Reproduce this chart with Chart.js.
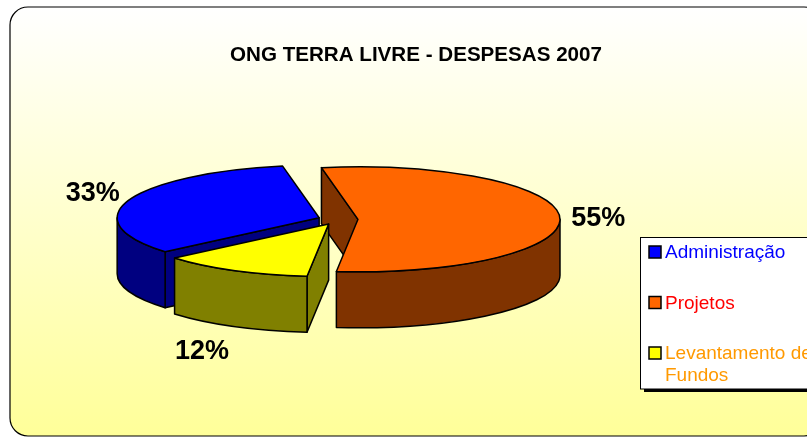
<!DOCTYPE html>
<html>
<head>
<meta charset="utf-8">
<title>ONG Terra Livre</title>
<style>
  html, body { margin: 0; padding: 0; background: #fff; overflow: hidden; width: 807px; height: 437px; }
  canvas { display: block; }
</style>
</head>
<body>
<canvas id="despesasChart" width="832" height="437"></canvas>
<script src="https://cdn.jsdelivr.net/npm/chart.js@4/dist/chart.umd.min.js"></script>
<script>
const titleText = 'ONG TERRA LIVRE - DESPESAS 2007';
const categories = ['Administração', 'Projetos', 'Levantamento de Fundos'];
const legendLines = [['Administração'], ['Projetos'], ['Levantamento de', 'Fundos']];
const values = [33.3, 54.6, 12.1];
const topColors = ['#0000FF', '#FF6600', '#FFFF00'];
const wallColors = ['#000080', '#803300', '#808000'];
const legendTextColors = ['#0000FF', '#FF0000', '#FF9900'];

const SQUASH = 0.26;   // tilt of the pie
const DEPTH = 56;
const EXPLODE = 20;
const LABEL_DIST = 1.19;
const labelNudge = [[0, -3], [0, 2], [-14, 16]];

const ctx = document.getElementById('despesasChart');

function slicePieces(chart) {
  return chart.getDatasetMeta(0).data.map((arc, i) => {
    const mid = (arc.startAngle + arc.endAngle) / 2;
    return {
      arc, i, mid,
      ax: arc.x + Math.cos(mid) * EXPLODE,
      ay: arc.y + Math.sin(mid) * EXPLODE * SQUASH
    };
  });
}

function paintFace(c, color) {
  c.fillStyle = color;
  c.fill();
  c.stroke();
}

const pie3d = {
  id: 'pie3d',
  afterLayout(chart) {
    // title is centred on the whole frame, not on the pie
    chart.titleBlock.left = 0;
    chart.titleBlock.right = chart.width;
  },
  beforeDraw(chart) {
    const c = chart.ctx;
    const grad = c.createLinearGradient(0, 7, 0, 436);
    grad.addColorStop(0, '#FFFFFF');
    grad.addColorStop(1, '#FFFF99');
    c.save();
    c.beginPath();
    c.roundRect(10, 7, 812, 429, 18);
    c.fillStyle = grad;
    c.fill();
    c.strokeStyle = '#000';
    c.lineWidth = 1.2;
    c.stroke();
    c.restore();
  },
  beforeDatasetDraw(chart) {
    const c = chart.ctx;
    const pieces = slicePieces(chart).sort((a, b) => a.ay - b.ay);
    c.save();
    c.strokeStyle = '#000';
    c.lineWidth = 1.5;
    c.lineJoin = 'round';
    pieces.forEach(p => {
      const { arc, i, ax, ay } = p;
      const R = arc.outerRadius;
      const ry = R * SQUASH;
      const s = arc.startAngle;
      const e = arc.endAngle;

      // radial walls, skip the ones facing away
      [s, e].forEach((t, k) => {
        const facing = k === 0 ? Math.cos(t) < 0 : Math.cos(t) > 0;
        if (!facing) return;
        const rimX = ax + Math.cos(t) * R;
        const rimY = ay + Math.sin(t) * ry;
        c.beginPath();
        c.moveTo(ax, ay);
        c.lineTo(rimX, rimY);
        c.lineTo(rimX, rimY + DEPTH);
        c.lineTo(ax, ay + DEPTH);
        c.closePath();
        paintFace(c, wallColors[i]);
      });

      // outer wall, only the part that faces the viewer
      for (let n = -1; n <= 2; n++) {
        const lo = Math.max(s, n * 2 * Math.PI);
        const hi = Math.min(e, Math.PI + n * 2 * Math.PI);
        if (hi > lo) {
          c.beginPath();
          c.ellipse(ax, ay, R, ry, 0, lo, hi);
          c.ellipse(ax, ay + DEPTH, R, ry, 0, hi, lo, true);
          c.closePath();
          paintFace(c, wallColors[i]);
        }
      }

      // top face comes from the library's own arc
      c.save();
      c.translate(ax, ay);
      c.scale(1, SQUASH);
      c.translate(-arc.x, -arc.y);
      arc.draw(c);
      c.restore();

      c.beginPath();
      c.moveTo(ax, ay);
      c.ellipse(ax, ay, R, ry, 0, s, e);
      c.closePath();
      c.stroke();
    });
    c.restore();
    return false;
  },
  afterDraw(chart) {
    const c = chart.ctx;
    const total = values.reduce((a, b) => a + b, 0);

    // percent labels
    c.save();
    c.fillStyle = '#000';
    c.font = 'bold 27px "Liberation Sans", Arial, sans-serif';
    c.textAlign = 'center';
    c.textBaseline = 'middle';
    slicePieces(chart).forEach(p => {
      const R = p.arc.outerRadius * LABEL_DIST;
      const x = p.ax + Math.cos(p.mid) * R + labelNudge[p.i][0];
      let y = p.ay + Math.sin(p.mid) * R * SQUASH + labelNudge[p.i][1];
      if (Math.sin(p.mid) > 0.2) y += DEPTH;
      c.fillText(Math.round(values[p.i] / total * 100) + '%', x, y);
    });
    c.restore();

    // legend box runs off the right side like the original
    c.save();
    c.fillStyle = '#000';
    c.fillRect(644, 389, 172, 3);
    c.fillStyle = '#fff';
    c.strokeStyle = '#000';
    c.lineWidth = 1;
    c.fillRect(640.5, 237.5, 172, 151.5);
    c.strokeRect(640.5, 237.5, 172, 151.5);
    c.font = '19px "Liberation Sans", Arial, sans-serif';
    c.textBaseline = 'middle';
    c.textAlign = 'left';
    let rowY = 252;
    legendLines.forEach((lines, i) => {
      c.fillStyle = topColors[i];
      c.lineWidth = 1.5;
      c.fillRect(649, rowY - 6, 12, 12);
      c.strokeRect(649, rowY - 6, 12, 12);
      c.fillStyle = legendTextColors[i];
      lines.forEach((line, j) => c.fillText(line, 665, rowY + 1 + j * 22));
      rowY += 50.5;
    });
    c.restore();
  }
};

const despesas = new Chart(ctx, {
  type: 'pie',
  data: {
    labels: categories,
    datasets: [{
      data: values,
      backgroundColor: topColors,
      borderWidth: 0
    }]
  },
  plugins: [pie3d],
  options: {
    responsive: false,
    animation: false,
    rotation: 229.7,
    radius: 202,
    layout: {
      padding: { left: 0, right: 156, top: 0, bottom: 65.9 }
    },
    plugins: {
      legend: { display: false },
      tooltip: { enabled: false },
      title: {
        display: true,
        text: titleText,
        color: '#000',
        font: { family: '"Liberation Sans", Arial, sans-serif', size: 20.6, weight: 'bold' },
        padding: { top: 43.2, bottom: 0 }
      }
    }
  }
});
</script>
</body>
</html>
